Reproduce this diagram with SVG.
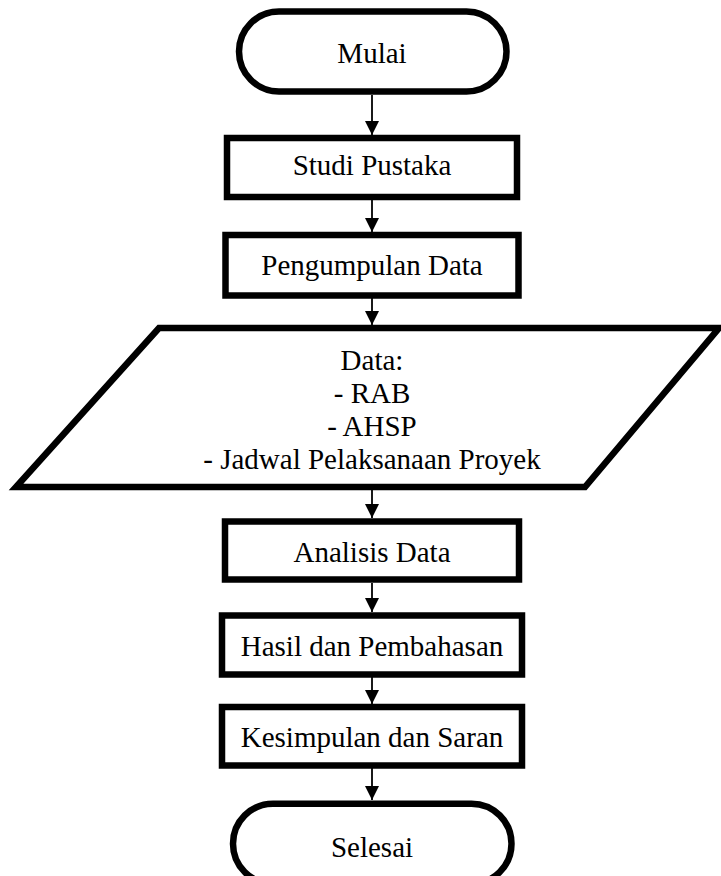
<svg xmlns="http://www.w3.org/2000/svg" width="721" height="876" viewBox="0 0 721 876">
<style>
.shape{fill:#fff;stroke:#000;stroke-width:6.5;stroke-linejoin:miter}
.lbl{font-family:"Liberation Serif","Times New Roman",serif;font-size:29px;fill:#000;text-anchor:middle}
.conn{stroke:#000;stroke-width:1.8;fill:none}
</style>
<defs>
<marker id="ah" viewBox="0 0 14 15" refX="14" refY="7" markerUnits="userSpaceOnUse" markerWidth="14" markerHeight="15" orient="auto">
<path d="M0,0 L14,7 L0,14 Z" fill="#000"/>
</marker>
</defs>
<rect width="721" height="876" fill="#fff"/>
<g id="connectors">
<line class="conn" x1="372" y1="95" x2="372" y2="135" marker-end="url(#ah)"/>
<line class="conn" x1="372" y1="200" x2="372" y2="232" marker-end="url(#ah)"/>
<line class="conn" x1="372" y1="298" x2="372" y2="325" marker-end="url(#ah)"/>
<line class="conn" x1="372" y1="490" x2="372" y2="518" marker-end="url(#ah)"/>
<line class="conn" x1="372" y1="583" x2="372" y2="612" marker-end="url(#ah)"/>
<line class="conn" x1="372" y1="677" x2="372" y2="704" marker-end="url(#ah)"/>
<line class="conn" x1="372" y1="768" x2="372" y2="800" marker-end="url(#ah)"/>
</g>
<g id="mulai">
<rect class="shape" x="239" y="11.5" width="267.5" height="80" rx="40" ry="40"/>
<text class="lbl" x="372" y="63">Mulai</text>
</g>
<g id="studi-pustaka">
<rect class="shape" x="227" y="138" width="290" height="59"/>
<text class="lbl" x="372" y="175">Studi Pustaka</text>
</g>
<g id="pengumpulan-data">
<rect class="shape" x="225.5" y="235" width="293" height="60.5"/>
<text class="lbl" x="372" y="275">Pengumpulan Data</text>
</g>
<g id="data">
<polygon class="shape" points="159,328 719,328 585,487 16,487"/>
<text class="lbl" x="372" y="370">Data:</text>
<text class="lbl" x="372" y="403">- RAB</text>
<text class="lbl" x="372" y="436">- AHSP</text>
<text class="lbl" x="372" y="469">- Jadwal Pelaksanaan Proyek</text>
</g>
<g id="analisis-data">
<rect class="shape" x="225" y="521.5" width="294" height="58"/>
<text class="lbl" x="372" y="561.5">Analisis Data</text>
</g>
<g id="hasil-pembahasan">
<rect class="shape" x="222" y="615.5" width="300" height="59"/>
<text class="lbl" x="372" y="656">Hasil dan Pembahasan</text>
</g>
<g id="kesimpulan-saran">
<rect class="shape" x="222" y="707" width="300" height="58.5"/>
<text class="lbl" x="372" y="746.5">Kesimpulan dan Saran</text>
</g>
<g id="selesai">
<rect class="shape" x="233" y="803.7" width="278.5" height="80" rx="40" ry="40"/>
<text class="lbl" x="372" y="856.5">Selesai</text>
</g>
</svg>
